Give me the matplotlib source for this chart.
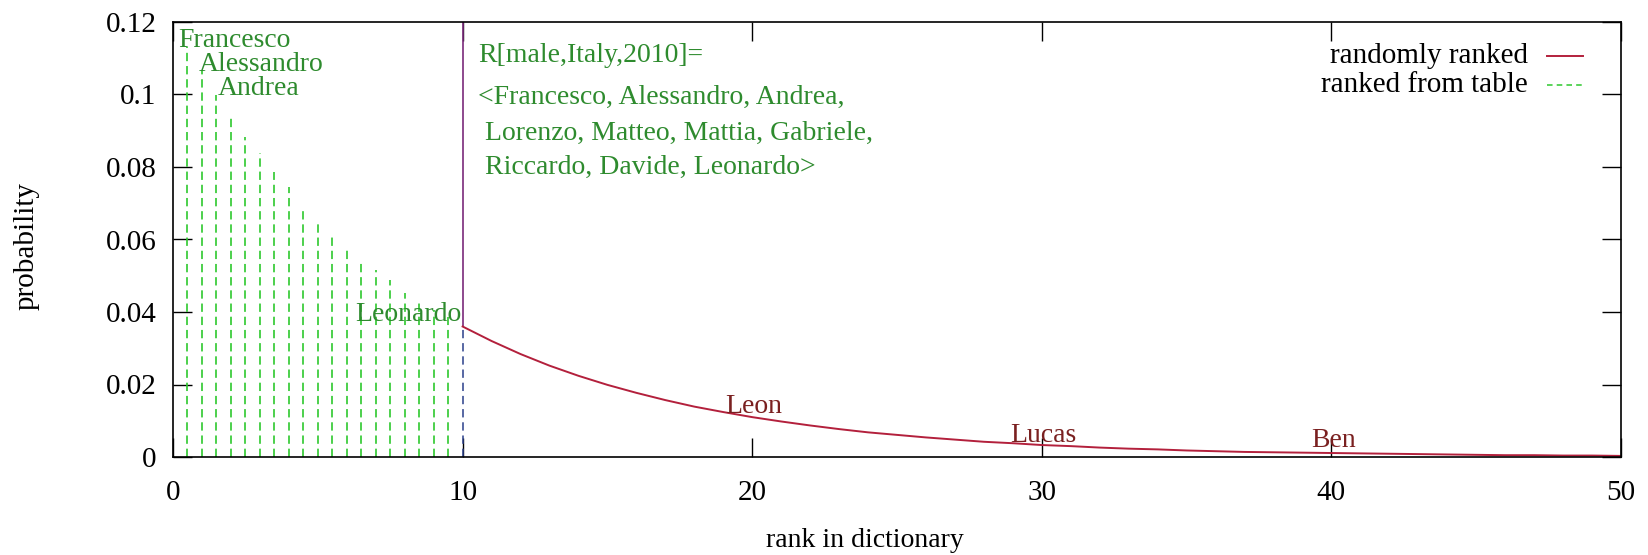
import numpy as np
import matplotlib
matplotlib.use("Agg")
import matplotlib.pyplot as plt
from matplotlib.lines import Line2D

plt.rcParams['font.family'] = ['Liberation Serif', 'DejaVu Serif']
plt.rcParams['lines.scale_dashes'] = False

# ranked-from-table probabilities (impulses every half rank up to 10)
table_probs = [0.1131, 0.1065, 0.0999, 0.0941, 0.0883, 0.0839, 0.0786, 0.0745,
               0.0687, 0.0648, 0.0612, 0.0571, 0.0535, 0.0516, 0.0488, 0.0452,
               0.0428, 0.0405, 0.0385, 0.0360]
table_ranks = np.arange(1, len(table_probs) + 1) * 0.5

# randomly ranked probabilities for ranks 10..50
random_ranks = np.arange(10, 51)
random_probs = [0.0360, 0.0320, 0.0284, 0.0252, 0.0224, 0.0199, 0.0177, 0.0157,
                0.0139, 0.0124, 0.0110, 0.0098, 0.0087, 0.0077, 0.0068, 0.0061,
                0.0054, 0.0048, 0.0042, 0.0038, 0.0033, 0.0030, 0.0026, 0.0023,
                0.0021, 0.0018, 0.0016, 0.0014, 0.0013, 0.0012, 0.0011, 0.0010,
                0.0009, 0.0008, 0.0007, 0.0006, 0.0005, 0.0005, 0.0004, 0.0004,
                0.0003]

x_ticks = [0, 10, 20, 30, 40, 50]
y_ticks = [0, 0.02, 0.04, 0.06, 0.08, 0.1, 0.12]
y_tick_labels = ['0', '0.02', '0.04', '0.06', '0.08', '0.1', '0.12']

top_names = ['Francesco', 'Alessandro', 'Andrea']
top_name_dx = [-0.33, -0.10, 0.05]
tail_names = ['Leon', 'Lucas', 'Ben']
tail_name_pos = [(19.06, 0.0121), (28.9, 0.0041), (39.3, 0.0028)]

ranking_lines = ['R[male,Italy,2010]=',
                 '<Francesco, Alessandro, Andrea,',
                 ' Lorenzo, Matteo, Mattia, Gabriele,',
                 ' Riccardo, Davide, Leonardo>']
ranking_y = [0.1107, 0.0993, 0.0893, 0.0800]

GREEN = '#2ec82e'
TEXT_GREEN = '#2e8b2e'
RED = '#b3203c'
NAME_RED = '#7a2020'
FS_TICK = 21
FS_LEG = 21
FS_LAB = 20
FS_NOTE = 20

fig = plt.figure(figsize=(16.49, 5.55), dpi=100)
ax = fig.add_axes([173 / 1649, 1 - 457 / 555, 1448 / 1649, 435 / 555])

# impulses ranked from table
ax.vlines(table_ranks[:-1], 0, table_probs[:-1], colors=GREEN, linewidth=1.2,
          linestyles=[(0, (6, 3.5))])
ax.vlines(table_ranks[-1], 0, table_probs[-1], colors='#2a3f8a', linewidth=1.1,
          linestyles=[(0, (6, 3.5))])
# marker line above the start of the random tail
ax.vlines(random_ranks[0], random_probs[0], 0.12, colors='#7a2a7a', linewidth=1.2)

# randomly ranked curve
ax.plot(random_ranks, random_probs, color=RED, linewidth=1.4)

ax.set_xlim(0, 50)
ax.set_ylim(0, 0.12)
ax.set_xticks(x_ticks)
ax.set_yticks(y_ticks)
ax.set_yticklabels(y_tick_labels)
ax.tick_params(direction='in', length=14, width=1, top=True, right=True,
               labelsize=FS_TICK, colors='black')
ax.tick_params(axis='x', pad=16.5)
ax.tick_params(axis='y', pad=12)
for s in ax.spines.values():
    s.set_linewidth(1.2)
    s.set_color('black')

ax.set_xlabel('rank in dictionary', fontsize=FS_LAB, va='center')
ax.set_ylabel('probability', fontsize=21, va='center')
ax.xaxis.set_label_coords(0.478, -0.191)
ax.yaxis.set_label_coords(-0.1008, 0.485)

# name labels along the table impulses
for name, dx, r, p in zip(top_names, top_name_dx, table_ranks, table_probs):
    ax.text(r + dx, p, name, color=TEXT_GREEN, fontsize=FS_NOTE, ha='left', va='baseline')
ax.text(table_ranks[-1] - 0.05, 0.0375, 'Leonardo', color=TEXT_GREEN, fontsize=FS_NOTE,
        ha='right', va='baseline')

for name, (x, y) in zip(tail_names, tail_name_pos):
    ax.text(x, y, name, color=NAME_RED, fontsize=FS_NOTE, ha='left', va='baseline')

for line, y in zip(ranking_lines, ranking_y):
    ax.text(10.53, y, line, color=TEXT_GREEN, fontsize=FS_NOTE, ha='left', va='center')

# legend, text right-aligned with line sample on the right
leg_y = [0.922, 0.855]
ax.text(0.9358, leg_y[0], 'randomly ranked', transform=ax.transAxes, fontsize=FS_LEG,
        ha='right', va='center')
ax.text(0.9358, leg_y[1], 'ranked from table', transform=ax.transAxes, fontsize=FS_LEG,
        ha='right', va='center')
ax.add_line(Line2D([0.949, 0.974], [leg_y[0]] * 2, transform=ax.transAxes,
                   color=RED, linewidth=1.4))
ax.add_line(Line2D([0.949, 0.974], [leg_y[1]] * 2, transform=ax.transAxes,
                   color=GREEN, linewidth=1.1, linestyle=(0, (4, 3))))

fig.savefig('out.png', dpi=100, facecolor='white')
